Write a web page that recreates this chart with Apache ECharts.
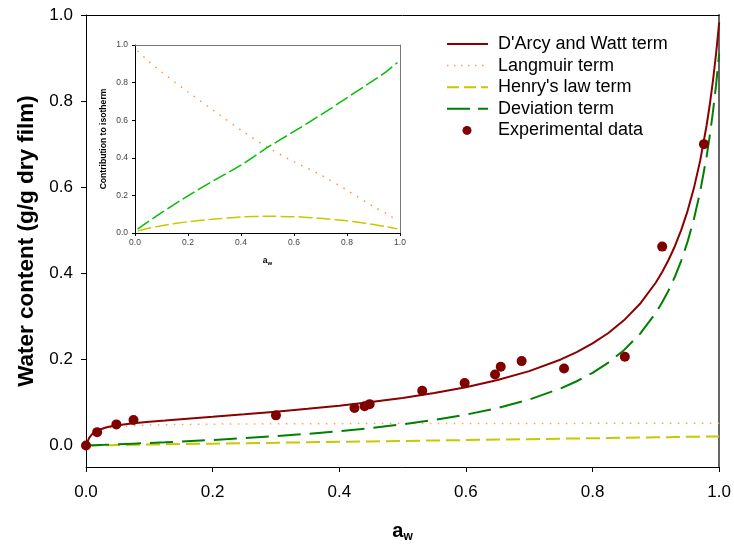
<!DOCTYPE html>
<html><head><meta charset="utf-8">
<script src="https://cdn.jsdelivr.net/npm/echarts@6/dist/echarts.min.js"></script>
<style>html,body{margin:0;padding:0;background:#fff}#c{width:734px;height:548px}</style>
</head><body><div id="c"></div>
<script>
// Main chart model curves
const awCurve = [0,0.005,0.01,0.015,0.02,0.03,0.04,0.05,0.075,0.1,0.125,0.15,0.2,0.25,0.3,0.35,0.4,0.45,0.5,0.55,0.6,0.65,0.7,0.75,0.775,0.8,0.825,0.85,0.875,0.9,0.91,0.92,0.93,0.94,0.95,0.96,0.97,0.98,0.985,0.99,0.995,1.0];
const darcyWatt = [0,0.0177,0.0267,0.0323,0.0362,0.0412,0.0446,0.0471,0.0517,0.0551,0.058,0.0611,0.0665,0.0723,0.0783,0.0851,0.0924,0.1009,0.1105,0.1219,0.1353,0.1519,0.1727,0.1998,0.2168,0.237,0.2613,0.2913,0.3291,0.3786,0.403,0.4309,0.4629,0.5002,0.5445,0.5973,0.6617,0.7422,0.7903,0.8454,0.9088,0.9829];
const langmuir = [0,0.0173,0.026,0.0312,0.0347,0.039,0.0416,0.0433,0.0459,0.0473,0.0481,0.0488,0.0495,0.05,0.0503,0.0506,0.0507,0.0509,0.051,0.0511,0.0511,0.0512,0.0513,0.0513,0.0513,0.0514,0.0514,0.0514,0.0514,0.0514,0.0514,0.0515,0.0515,0.0515,0.0515,0.0515,0.0515,0.0515,0.0515,0.0515,0.0515,0.0515];
const henry = [0,0.0001,0.0002,0.0003,0.0004,0.0006,0.0008,0.0011,0.0016,0.0021,0.0026,0.0032,0.0042,0.0053,0.0063,0.0074,0.0084,0.0095,0.0105,0.0116,0.0126,0.0137,0.0147,0.0158,0.0163,0.0168,0.0173,0.0179,0.0184,0.0189,0.0191,0.0193,0.0195,0.0197,0.02,0.0202,0.0204,0.0206,0.0207,0.0208,0.0209,0.021];
const deviation = [0,0.0003,0.0005,0.0008,0.0011,0.0016,0.0022,0.0027,0.0042,0.0057,0.0073,0.0091,0.0128,0.017,0.0217,0.0271,0.0333,0.0405,0.049,0.0592,0.0716,0.087,0.1067,0.1327,0.1492,0.1688,0.1926,0.222,0.2593,0.3083,0.3325,0.3601,0.3919,0.429,0.473,0.5256,0.5898,0.6701,0.7181,0.7731,0.8364,0.9104];
// Experimental data
const expAw = [0,0.0176,0.048,0.075,0.300,0.424,0.440,0.448,0.531,0.598,0.646,0.655,0.688,0.755,0.851,0.910,0.976];
const expWater = [0,0.031,0.049,0.059,0.070,0.087,0.091,0.096,0.127,0.145,0.165,0.183,0.196,0.179,0.206,0.462,0.700];
// Inset: contribution fractions
const insetAw = [0.01,0.05,0.1,0.2,0.3,0.4,0.5,0.6,0.7,0.8,0.9,0.95,0.99];
const insetLangmuir = [0.968,0.915,0.857,0.75,0.648,0.547,0.455,0.379,0.31,0.228,0.14,0.103,0.065];
const insetHenry = [0.01,0.025,0.039,0.06,0.074,0.085,0.089,0.087,0.078,0.065,0.045,0.033,0.022];
const insetDeviation = [0.021,0.06,0.108,0.198,0.281,0.361,0.455,0.54,0.627,0.719,0.812,0.86,0.906];
const mainTicks = [0,0.2,0.4,0.6,0.8,1.0];
const legendNames = ["D'Arcy and Watt term", 'Langmuir term', "Henry's law term", 'Deviation term', 'Experimental data'];

const zip = (a,b) => a.map((v,i)=>[v,b[i]]);
const F = 'Liberation Sans, Arial, sans-serif';
const fmt = v => v.toFixed(1);

const C = {red:'#8B0000', dot:'#800000', orange:'#FFA050', yellow:'#C8C800', green:'#008000'};
const legStyles = [
  {stroke:C.red, lineWidth:2},
  {stroke:C.orange, lineWidth:1.5, lineDash:[1.5,5.5]},
  {stroke:C.yellow, lineWidth:2, lineDash:[12,5]},
  {stroke:C.green, lineWidth:2, lineDash:[23,8]},
  null
];
const legendGraphics = [];
legendNames.forEach((n,i)=>{
  const cy = 44 + i*21.6;
  if (legStyles[i]) {
    legendGraphics.push({type:'line', shape:{x1:447,y1:cy,x2:488,y2:cy}, style:legStyles[i]});
  } else {
    legendGraphics.push({type:'circle', shape:{cx:467, cy:cy, r:4.5}, style:{fill:C.dot}});
  }
  legendGraphics.push({type:'text', x:498, y:cy, style:{text:n, fontFamily:F, fontSize:18, fill:'#000', verticalAlign:'middle', align:'left'}});
});

const chart = echarts.init(document.getElementById('c'));
chart.setOption({
  animation:false,
  backgroundColor:'#fff',
  grid:[
    {left:86, right:14, top:15, bottom:81},
    {left:135, right:334, top:45, bottom:315}
  ],
  graphic:legendGraphics,
  xAxis:[
    {gridIndex:0, type:'value', min:0, max:1, interval:0.2, position:'bottom',
     axisLine:{onZero:false, lineStyle:{color:'#000',width:1}}, axisTick:{inside:false,length:5,lineStyle:{color:'#000'}},
     axisLabel:{fontFamily:F, fontSize:17, color:'#000', margin:17, formatter:fmt},
     splitLine:{show:false},
     name:'{a|a}{w|w}', nameLocation:'middle', nameGap:52,
     nameTextStyle:{rich:{a:{fontFamily:F,fontSize:20,fontWeight:'bold',color:'#000'},w:{fontFamily:F,fontSize:12,fontWeight:'bold',color:'#000',padding:[12,0,0,0]}}}},
    {gridIndex:0, type:'value', min:0, max:1, position:'top', axisLine:{onZero:false, lineStyle:{color:'#000'}}, axisTick:{show:false}, axisLabel:{show:false}, splitLine:{show:false}},
    {gridIndex:1, type:'value', min:0, max:1, interval:0.2, position:'bottom',
     axisLine:{onZero:false, lineStyle:{color:'#000',width:1}}, axisTick:{length:3,lineStyle:{color:'#000'}},
     axisLabel:{fontFamily:F, fontSize:8.5, color:'#444', margin:5.5, formatter:fmt},
     splitLine:{show:false},
     name:'{a|a}{w|w}', nameLocation:'middle', nameGap:22,
     nameTextStyle:{rich:{a:{fontFamily:F,fontSize:8.5,fontWeight:'bold',color:'#000'},w:{fontFamily:F,fontSize:6,fontWeight:'bold',color:'#000',padding:[5,0,0,0]}}}},
    {gridIndex:1, type:'value', min:0, max:1, position:'top', axisLine:{onZero:false, lineStyle:{color:'#777'}}, axisTick:{show:false}, axisLabel:{show:false}, splitLine:{show:false}}
  ],
  yAxis:[
    {gridIndex:0, type:'value', min:-0.05, max:1.0, position:'left',
     axisLine:{onZero:false, lineStyle:{color:'#000',width:1}},
     axisTick:{length:5, customValues:mainTicks, lineStyle:{color:'#000'}},
     axisLabel:{fontFamily:F, fontSize:17, color:'#000', margin:13, customValues:mainTicks, formatter:fmt},
     splitLine:{show:false},
     name:'Water content (g/g dry film)', nameLocation:'middle', nameGap:47,
     nameTextStyle:{fontFamily:F, fontSize:22.5, fontWeight:'bold', color:'#000'}},
    {gridIndex:0, type:'value', min:-0.05, max:1.0, position:'right', axisLine:{onZero:false, lineStyle:{color:'#666',width:2}}, axisTick:{show:false}, axisLabel:{show:false}, splitLine:{show:false}},
    {gridIndex:1, type:'value', min:0, max:1, interval:0.2, position:'left',
     axisLine:{onZero:false, lineStyle:{color:'#000',width:1}}, axisTick:{length:3,lineStyle:{color:'#000'}},
     axisLabel:{fontFamily:F, fontSize:8.5, color:'#444', margin:7, formatter:fmt},
     splitLine:{show:false},
     name:'Contribution to isotherm', nameLocation:'middle', nameGap:27,
     nameTextStyle:{fontFamily:F, fontSize:8.6, fontWeight:'bold', color:'#000'}},
    {gridIndex:1, type:'value', min:0, max:1, position:'right', axisLine:{onZero:false, lineStyle:{color:'#777'}}, axisTick:{show:false}, axisLabel:{show:false}, splitLine:{show:false}}
  ],
  series:[
    {name:'Langmuir term', type:'line', xAxisIndex:0, yAxisIndex:0, data:zip(awCurve,langmuir), symbol:'none',
     lineStyle:{color:C.orange, width:1.5, type:[1.5,6.5]}},
    {name:"Henry's law term", type:'line', xAxisIndex:0, yAxisIndex:0, data:zip(awCurve,henry), symbol:'none',
     lineStyle:{color:C.yellow, width:2, type:[14,6]}},
    {name:'Deviation term', type:'line', xAxisIndex:0, yAxisIndex:0, data:zip(awCurve,deviation), symbol:'none',
     lineStyle:{color:C.green, width:2, type:[23,9]}},
    {name:"D'Arcy and Watt term", type:'line', xAxisIndex:0, yAxisIndex:0, data:zip(awCurve,darcyWatt), symbol:'none',
     lineStyle:{color:C.red, width:2}},
    {name:'Experimental data', type:'scatter', xAxisIndex:0, yAxisIndex:0, data:zip(expAw,expWater), symbol:'circle', symbolSize:10,
     itemStyle:{color:C.dot, opacity:1}, z:5},
    {name:'inset Langmuir', type:'line', xAxisIndex:2, yAxisIndex:2, data:zip(insetAw,insetLangmuir), smooth:0.2, symbol:'none',
     lineStyle:{color:'#FF9040', width:1.5, type:[1.5,6.5]}},
    {name:'inset Henry', type:'line', xAxisIndex:2, yAxisIndex:2, data:zip(insetAw,insetHenry), smooth:0.2, symbol:'none',
     lineStyle:{color:C.yellow, width:1.5, type:[14,4]}},
    {name:'inset Deviation', type:'line', xAxisIndex:2, yAxisIndex:2, data:zip(insetAw,insetDeviation), smooth:0.2, symbol:'none',
     lineStyle:{color:'#00C000', width:1.5, type:[14,4]}}
  ]
});
</script></body></html>
